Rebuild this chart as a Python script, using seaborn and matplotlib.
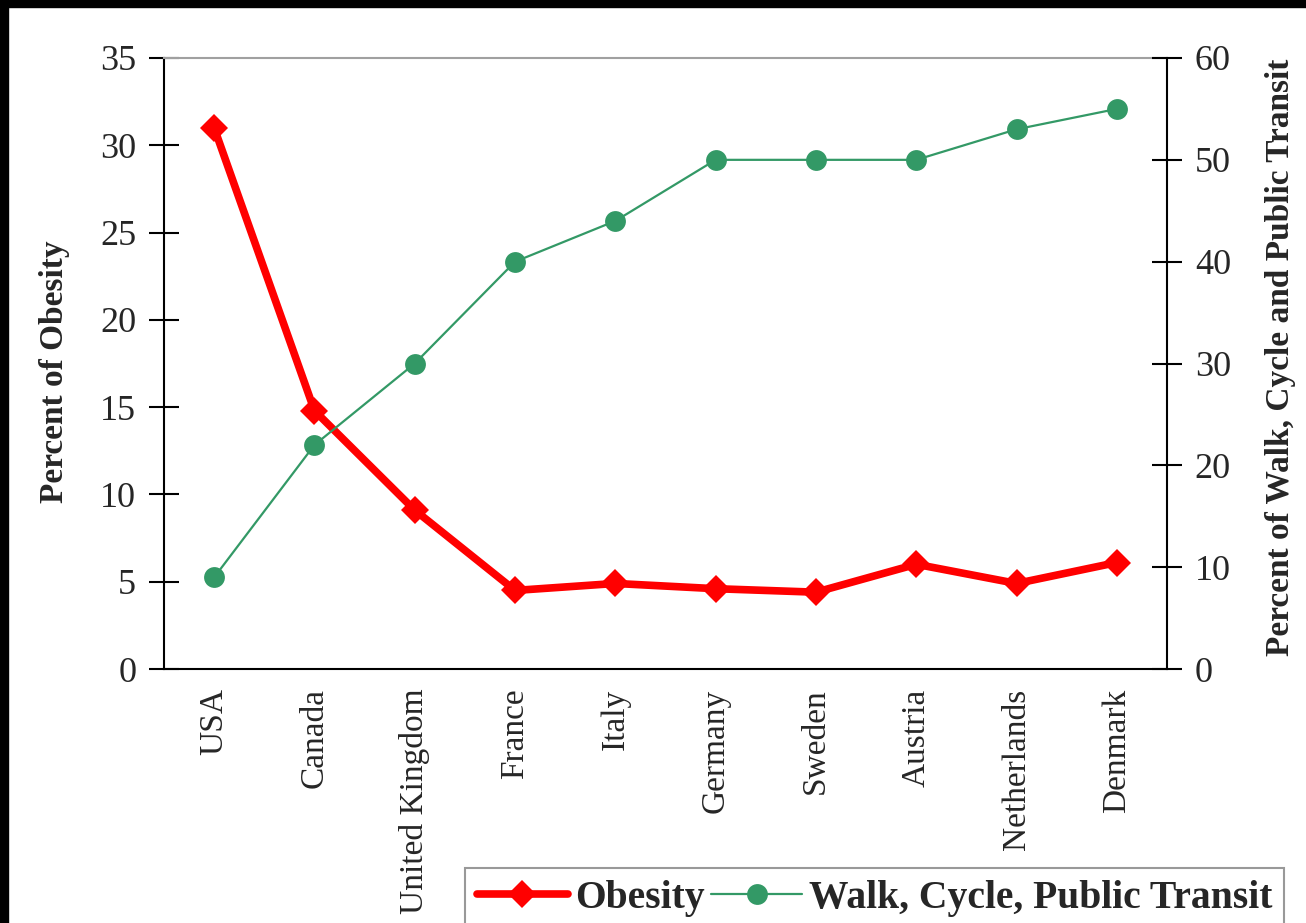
import numpy as np
import pandas as pd
import matplotlib
matplotlib.use("Agg")
import matplotlib.pyplot as plt
from matplotlib.lines import Line2D
from matplotlib.patches import Rectangle
import seaborn as sns

countries = ["USA", "Canada", "United Kingdom", "France", "Italy", "Germany",
             "Sweden", "Austria", "Netherlands", "Denmark"]
obesity = [31.0, 14.8, 9.1, 4.5, 4.9, 4.6, 4.4, 6.0, 4.9, 6.1]
walk_cycle_transit = [9, 22, 30, 40, 44, 50, 50, 50, 53, 55]
left_ticks = [0, 5, 10, 15, 20, 25, 30, 35]
right_ticks = [0, 10, 20, 30, 40, 50, 60]

sns.set_theme(style="white")
plt.rcParams["font.family"] = ["Liberation Serif", "DejaVu Serif"]

df = pd.DataFrame({"pos": np.arange(len(countries)), "country": countries,
                   "obesity": obesity, "walk": walk_cycle_transit})

W, H = 1306, 923
fig = plt.figure(figsize=(W / 100, H / 100), dpi=100, facecolor="white")
ax = fig.add_axes([164 / W, 1 - 669 / H, (1167 - 164) / W, (669 - 58) / H])
ax2 = ax.twinx()

red = "#FF0000"
green = "#339966"

sns.lineplot(data=df, x="pos", y="obesity", ax=ax, color=red, lw=5.5,
             marker="D", markersize=14, markeredgewidth=0, sort=False,
             legend=False)
sns.lineplot(data=df, x="pos", y="walk", ax=ax2, color=green, lw=1.6,
             marker="o", markersize=15, markeredgewidth=0, sort=False,
             legend=False)

n = len(countries)
ax.set_xlim(-0.5, n - 0.5)
ax.set_ylim(0, 35)
ax2.set_ylim(0, 60)
ax.set_yticks(left_ticks)
ax2.set_yticks(right_ticks)

# boundaries as major ticks, labels on minor ticks at the category centres
ax.set_xticks(np.arange(-0.5, n, 1.0))
ax.set_xticklabels([])
ax.set_xticks(np.arange(n), minor=True)
ax.set_xticklabels(countries, minor=True, rotation=90, fontsize=24)
ax.tick_params(axis="x", which="major", direction="inout", length=17,
               width=1.5, color="black")
ax.tick_params(axis="x", which="minor", length=0, pad=14)
ax.tick_params(axis="y", direction="inout", length=22, width=1.5,
               color="black", labelsize=26, pad=9, left=True)
ax2.tick_params(axis="y", direction="inout", length=22, width=1.5,
                color="black", labelsize=26, pad=9, right=True)

ax.set_xlabel("")
ax.set_ylabel("Percent of Obesity", fontsize=24, fontweight="bold")
ax2.set_ylabel("Percent of Walk, Cycle and Public Transit", fontsize=24,
               fontweight="bold", rotation=90)
ax.yaxis.set_label_coords(-0.094, 0.486)
ax2.yaxis.set_label_coords(1.098, 0.51)

for a in (ax, ax2):
    for s in a.spines.values():
        s.set_linewidth(1.5)
        s.set_color("black")
ax.spines["top"].set_color("#A0A0A0")
ax.spines["right"].set_visible(False)
ax2.spines["top"].set_visible(False)
ax2.spines["left"].set_visible(False)
ax2.spines["bottom"].set_visible(False)
ax.grid(False)
ax2.grid(False)

handles = [
    Line2D([], [], color=red, lw=5.5, marker="D", markersize=14,
           markeredgewidth=0),
    Line2D([], [], color=green, lw=1.6, marker="o", markersize=15,
           markeredgewidth=0),
]
leg = fig.legend(handles, ["Obesity", "Walk, Cycle, Public Transit"],
                 loc="upper left", bbox_to_anchor=(465 / W, 1 - 868 / H),
                 ncol=2, frameon=True, fancybox=False, edgecolor="#808080",
                 handlelength=2.3, handletextpad=0.17, columnspacing=0.17,
                 borderpad=0.3, borderaxespad=0,
                 prop={"family": "Liberation Serif", "weight": "bold",
                       "size": 28.5})
leg.get_frame().set_linewidth(1.5)

# black frame strips at top and left of the image
fig.patches.append(Rectangle((0, 1 - 7 / H), 1, 7 / H, transform=fig.transFigure,
                             color="black", zorder=10))
fig.patches.append(Rectangle((0, 0), 8 / W, 1, transform=fig.transFigure,
                             color="black", zorder=10))

fig.savefig("out.png", dpi=100, facecolor="white")
